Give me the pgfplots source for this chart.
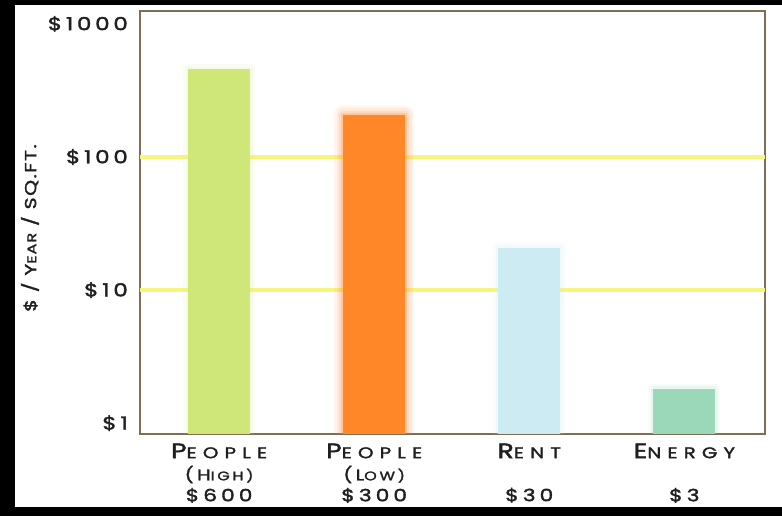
\documentclass[border=0pt]{standalone}
\usepackage{pgfplots}
\pgfplotsset{compat=1.18}
\usepackage{fontspec}
\setmainfont{Poppins}[FakeStretch=1.28, FakeBold=2]
\definecolor{framec}{RGB}{125,110,85}
\definecolor{gridc}{RGB}{248,245,125}
\definecolor{cgreen}{RGB}{207,230,120}
\definecolor{corange}{RGB}{255,135,40}
\definecolor{cblue}{RGB}{205,235,242}
\definecolor{cmint}{RGB}{155,215,185}
\pgfplotsset{layers/mylayers/.define layer set={axis background,axis grid,main,axis ticks,axis lines,axis tick labels,axis descriptions,axis foreground}{}}
\newcommand{\bigsc}[2]{{\addfontfeature{LetterSpace=40}\fontsize{21}{21}\selectfont #1}{\addfontfeature{LetterSpace=40}\fontsize{15.5}{15.5}\selectfont #2}}
\newcommand{\smlsc}[2]{{\addfontfeature{LetterSpace=22}\fontsize{15.5}{15.5}\selectfont #1}{\addfontfeature{LetterSpace=22}\fontsize{12.5}{12.5}\selectfont #2}}
\newcommand{\catlab}[3]{\vtop{\offinterlineskip\halign{\hfil##\hfil\cr
  \rule{0pt}{16bp}#1\cr
  \rule[-3bp]{0pt}{25bp}#2\cr
  \rule{0pt}{18bp}{\addfontfeature{LetterSpace=24}\fontsize{17}{17}\selectfont #3}\cr}}}
\begin{document}
\begin{tikzpicture}[x=1bp,y=1bp]
\fill[black] (0,0) rectangle (782,516);
\fill[white] (15,9) rectangle (782,511);
\node[rotate=90, inner sep=0pt, text=black!88] at (30,288) {\addfontfeature{LetterSpace=9}{\fontsize{16}{16}\selectfont \$ / Y}{\addfontfeature{LetterSpace=9}\fontsize{12.5}{12.5}\selectfont EAR}{\addfontfeature{LetterSpace=9}\fontsize{16}{16}\selectfont{} / SQ.FT.}};
\begin{axis}[
  at={(140bp,82bp)}, anchor=south west, scale only axis,
  width=625bp, height=423bp,
  set layers=mylayers,
  ymode=log, log origin=infty,
  ymin=0.83, ymax=1250, xmin=-0.51, xmax=3.52,
  axis line style={draw=framec, line width=2bp},
  ybar, bar width=62bp, bar shift=0pt,
  xtick={0,1,2,3},
  xticklabels={
    {\catlab{\bigsc{P}{EOPLE}}{\smlsc{(H}{IGH)}}{\$600}},
    {\catlab{\bigsc{P}{EOPLE}}{\smlsc{(L}{OW)}}{\$300}},
    {\catlab{\bigsc{R}{ENT}}{}{\$30}},
    {\catlab{\bigsc{E}{NERGY}}{}{\$3}}},
  ytick={1,10,100,1000},
  yticklabels={\$1,\$10,\$100,\$1000},
  yminorticks=false,
  major tick length=0pt,
  extra y ticks={10,100},
  extra y tick labels={},
  extra y tick style={grid=major, major grid style={draw=gridc, line width=4.5bp}},
  yticklabel style={font=\fontsize{18}{18}\selectfont\addfontfeature{LetterSpace=21}, inner sep=0pt, xshift=-12bp, text=black!88},
  xticklabel style={inner sep=0pt, anchor=north, yshift=-8bp, text=black!88},
]
% glow layers
\addplot[fill=corange, draw=corange, line width=18bp, line join=round, opacity=0.08] coordinates {(1,208)};
\addplot[fill=corange, draw=corange, line width=13bp, line join=round, opacity=0.1] coordinates {(1,208)};
\addplot[fill=corange, draw=corange, line width=8bp, line join=round, opacity=0.15] coordinates {(1,208)};
\addplot[fill=corange, draw=corange, line width=4bp, line join=round, opacity=0.2] coordinates {(1,208)};
\addplot[fill=cgreen, draw=cgreen, line width=10bp, line join=round, opacity=0.08] coordinates {(0,456)};
\addplot[fill=cgreen, draw=cgreen, line width=5bp, line join=round, opacity=0.12] coordinates {(0,456)};
\addplot[fill=cblue, draw=cblue, line width=10bp, line join=round, opacity=0.1] coordinates {(2,20.7)};
\addplot[fill=cblue, draw=cblue, line width=5bp, line join=round, opacity=0.15] coordinates {(2,20.7)};
\addplot[fill=cmint, draw=cmint, line width=10bp, line join=round, opacity=0.08] coordinates {(3,1.82)};
\addplot[fill=cmint, draw=cmint, line width=5bp, line join=round, opacity=0.12] coordinates {(3,1.82)};
% bars
\addplot[fill=cgreen, draw=none] coordinates {(0,456)};
\addplot[fill=corange, draw=none] coordinates {(1,208)};
\addplot[fill=cblue, draw=none] coordinates {(2,20.7)};
\addplot[fill=cmint, draw=none] coordinates {(3,1.82)};
\end{axis}
\end{tikzpicture}
\end{document}
